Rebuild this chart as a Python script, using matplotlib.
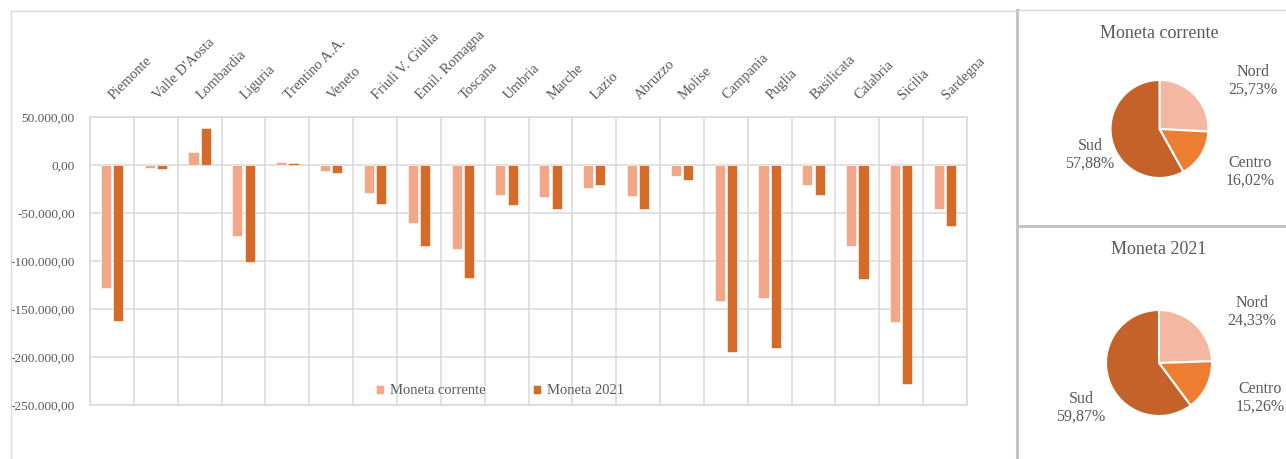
import matplotlib
matplotlib.use("Agg")
import matplotlib.pyplot as plt
import numpy as np
from matplotlib.lines import Line2D
from matplotlib.ticker import FuncFormatter

plt.rcParams['font.family'] = ['Liberation Serif', 'DejaVu Serif']

regioni = ["Piemonte", "Valle D'Aosta", "Lombardia", "Liguria", "Trentino A.A.",
           "Veneto", "Friuli V. Giulia", "Emil. Romagna", "Toscana", "Umbria",
           "Marche", "Lazio", "Abruzzo", "Molise", "Campania", "Puglia",
           "Basilicata", "Calabria", "Sicilia", "Sardegna"]
moneta_corrente = [-127800, -3100, 13900, -74300, 3500, -5900, -28800, -60000, -87800, -30900,
                   -33700, -23600, -32600, -11500, -141300, -138900, -20800, -84400, -163900, -45800]
moneta_2021 = [-162500, -4500, 38200, -101400, 2100, -8000, -41000, -84400, -117400, -42000,
               -45800, -20800, -45800, -15300, -195100, -191000, -30900, -119100, -228500, -63500]

aree = ["Nord", "Centro", "Sud"]
quote_corrente = [25.73, 16.02, 57.88]
quote_2021 = [24.33, 15.26, 59.87]

W, H = 1286, 459
C_LIGHT = '#F1A788'
C_DARK = '#D46B29'
PIE_COLORS = ['#F4B8A2', '#ED7D31', '#C4622A']
TXT = '#595959'
GRID = '#D9D9D9'


def fx(x):
    return x / W


def fy(y):
    return 1 - y / H


fig = plt.figure(figsize=(W / 100, H / 100), dpi=100)

# panel borders
fig.add_artist(Line2D([fx(11), fx(11)], [fy(11), fy(459)], color=GRID, lw=1))
fig.add_artist(Line2D([fx(11), fx(1017)], [fy(11), fy(11)], color=GRID, lw=1))
fig.add_artist(Line2D([fx(1018), fx(1286)], [fy(10), fy(10)], color=GRID, lw=1))
fig.add_artist(Line2D([fx(1017), fx(1017)], [fy(10), fy(459)], color='#C4C4C4', lw=2.2))
fig.add_artist(Line2D([fx(1018), fx(1286)], [fy(226), fy(226)], color='#C4C4C4', lw=2.2))

# bar chart
ax = fig.add_axes([fx(90), fy(405), fx(967) - fx(90), fy(117) - fy(405)])
x = np.arange(len(regioni))
bw = 0.23
ax.bar(x - 0.14, moneta_corrente, bw, color=C_LIGHT, edgecolor='white', linewidth=0.4,
       label='Moneta corrente', zorder=3)
ax.bar(x + 0.14, moneta_2021, bw, color=C_DARK, edgecolor='white', linewidth=0.4,
       label='Moneta 2021', zorder=3)
ax.set_xlim(-0.5, len(regioni) - 0.5)
ax.set_ylim(-250000, 50000)
ax.set_yticks(np.arange(-250000, 50001, 50000))
ax.yaxis.set_major_formatter(FuncFormatter(
    lambda v, p: f"{v:,.2f}".replace(",", "X").replace(".", ",").replace("X", ".")))
ax.tick_params(axis='y', length=0, pad=11, labelsize=9.6, labelcolor=TXT)
ax.set_xticks(np.arange(len(regioni) + 1) - 0.5, minor=False)
ax.set_xticklabels([])
ax.tick_params(axis='x', length=0)
ax.grid(True, color=GRID, lw=1.1, zorder=0)
for s in ax.spines.values():
    s.set_color(GRID)
    s.set_linewidth(1.1)

for i, name in enumerate(regioni):
    ax.text(i + 0.04, 1.058, name, transform=ax.get_xaxis_transform(), rotation=45,
            rotation_mode='anchor', ha='left', va='baseline', fontsize=10.5, color=TXT)

ax.legend(loc='center', bbox_to_anchor=(fx(500), fy(391)), bbox_transform=fig.transFigure,
          ncol=2, frameon=False, fontsize=10.5, handlelength=0.6, handleheight=0.6,
          handletextpad=0.4, columnspacing=3.2, labelcolor=TXT)


def draw_pie(cx, cy, r, vals, title, ty, labels):
    pa = fig.add_axes([fx(cx - r), fy(cy + r), fx(2 * r), fx(2 * r) * W / H])
    pa.pie(vals, colors=PIE_COLORS, startangle=90, counterclock=False,
           wedgeprops=dict(edgecolor='white', linewidth=1.5))
    pa.set_xlim(-1, 1)
    pa.set_ylim(-1, 1)
    pa.set_aspect('equal')
    fig.text(fx(cx), fy(ty), title, ha='center', va='center', fontsize=13, color=TXT)
    for (lx, ly), name, v in zip(labels, aree, vals):
        fig.text(fx(lx), fy(ly), f"{name}\n{v:.2f}%".replace(".", ","), ha='center',
                 va='center', fontsize=11.5, color=TXT, linespacing=1.15)


draw_pie(1159.5, 129, 49, quote_corrente, "Moneta corrente", 33,
         [(1253, 81), (1250, 172), (1090, 155)])
draw_pie(1159, 363, 53, quote_2021, "Moneta 2021", 250,
         [(1252, 312), (1260, 398), (1081, 408)])

fig.savefig("out.png", dpi=100)
